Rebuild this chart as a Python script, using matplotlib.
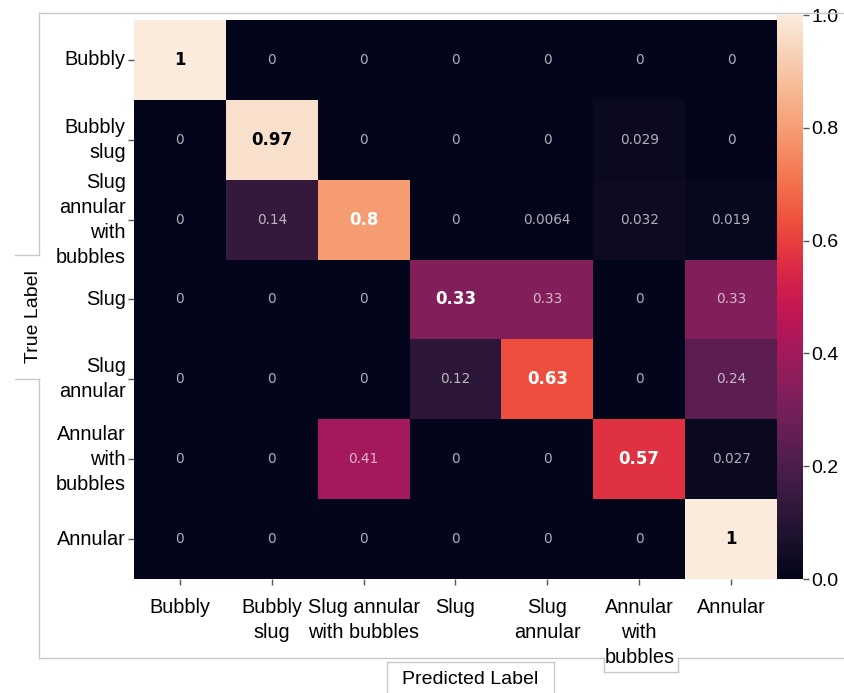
import numpy as np
import matplotlib
matplotlib.use("Agg")
import matplotlib.pyplot as plt
from matplotlib.lines import Line2D
import seaborn as sns

row_labels = ["Bubbly", "Bubbly\nslug", "Slug\nannular\nwith\nbubbles", "Slug",
              "Slug\nannular", "Annular\nwith\nbubbles", "Annular"]
col_labels = ["Bubbly", "Bubbly\nslug", "Slug annular\nwith bubbles", "Slug",
              "Slug\nannular", "Annular\nwith\nbubbles", "Annular"]
row_bubbly = [1, 0, 0, 0, 0, 0, 0]
row_bubbly_slug = [0, 0.97, 0, 0, 0, 0.029, 0]
row_slug_annular_bubbles = [0, 0.14, 0.8, 0, 0.0064, 0.032, 0.019]
row_slug = [0, 0, 0, 0.33, 0.33, 0, 0.33]
row_slug_annular = [0, 0, 0, 0.12, 0.63, 0, 0.24]
row_annular_bubbles = [0, 0, 0.41, 0, 0, 0.57, 0.027]
row_annular = [0, 0, 0, 0, 0, 0, 1]
cbar_ticks = [0.0, 0.2, 0.4, 0.6, 0.8, 1.0]

M = np.array([row_bubbly, row_bubbly_slug, row_slug_annular_bubbles, row_slug,
              row_slug_annular, row_annular_bubbles, row_annular])

W, H = 844, 693
fig = plt.figure(figsize=(W / 100, H / 100), dpi=100)
fig.patch.set_facecolor("white")

def fx(px):
    return px / W

def fy(py):
    return 1 - py / H

cmap = sns.color_palette("rocket", as_cmap=True)
ax = fig.add_axes([fx(134), fy(579), fx(777) - fx(134), fy(20) - fy(579)])
cax = fig.add_axes([fx(777), fy(579), fx(803) - fx(777), fy(15) - fy(579)])

n = M.shape[0]
mesh = ax.pcolormesh(np.arange(n + 1), np.arange(n + 1), M, cmap=cmap, vmin=0, vmax=1)
ax.set_xlim(0, n)
ax.set_ylim(n, 0)
for s in ax.spines.values():
    s.set_visible(False)

label_font = "Liberation Sans"
ax.set_xticks(np.arange(n) + 0.5)
ax.set_xticklabels(col_labels, family=label_font, fontsize=14.3, linespacing=1.4)
ax.set_yticks(np.arange(n) + 0.5)
ax.set_yticklabels(row_labels, family=label_font, fontsize=14.3, linespacing=1.4,
                   ha="right", va="center", multialignment="right")
ax.tick_params(axis="both", length=4, width=1, color="#555555", pad=2)
ax.tick_params(axis="x", pad=10)

for i in range(n):
    for j in range(n):
        v = M[i, j]
        txt = f"{v:g}"
        if i == j:
            color = "black" if v > 0.9 else "white"
            ax.text(j + 0.5, i + 0.5, txt, ha="center", va="center",
                    fontsize=12, fontweight="bold", color=color, family="DejaVu Sans")
        else:
            ax.text(j + 0.5, i + 0.5, txt, ha="center", va="center",
                    fontsize=9.8, color="white", alpha=0.68, family="DejaVu Sans")

cb = fig.colorbar(mesh, cax=cax)
cb.outline.set_visible(False)
cb.set_ticks(cbar_ticks)
cb.set_ticklabels([f"{t:.1f}" for t in cbar_ticks])
cax.tick_params(length=4, width=1, color="#555555", labelsize=14, pad=2)
for t in cax.get_yticklabels():
    t.set_family(label_font)

# axis labels
fig.text(fx(33), fy(317), "True Label", rotation=90, ha="center", va="center",
         fontsize=14, family=label_font)
fig.text(fx(470), fy(680), "Predicted Label", ha="center", va="center",
         fontsize=14, family=label_font)

# frame lines from the screenshot composition
gc = "#c8c8c8"
segs = [
    ((39, 12.5), (844, 12.5)),
    ((39, 12.5), (39, 255)),
    ((15, 255), (39, 255)),
    ((15, 379), (39, 379)),
    ((39, 379), (39, 658)),
    ((39, 658), (604, 658)),
    ((604, 658), (604, 672)),
    ((604, 672), (678, 672)),
    ((678, 672), (678, 658)),
    ((678, 658), (844, 658)),
    ((387, 662), (387, 693)),
    ((387, 662), (554, 662)),
    ((554, 662), (554, 693)),
]
for (x0, y0), (x1, y1) in segs:
    fig.add_artist(Line2D([fx(x0), fx(x1)], [fy(y0), fy(y1)], color=gc, lw=1,
                          transform=fig.transFigure))

fig.savefig("out.png", dpi=100, facecolor="white")
